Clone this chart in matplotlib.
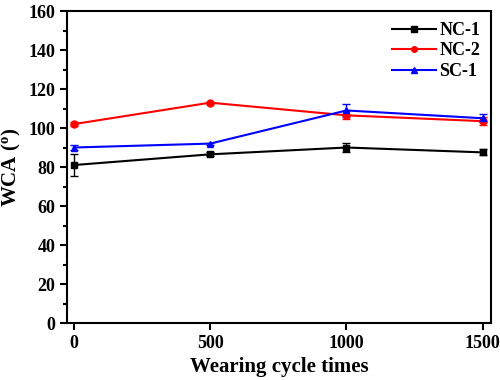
import numpy as np
import matplotlib
matplotlib.use('Agg')
import matplotlib.pyplot as plt

# data
cycles = [0, 500, 1000, 1500]
nc1 = [81, 86.5, 90, 87.5]
nc1_err = [5.5, 1, 2.5, 1.5]
nc2 = [102, 113, 106.5, 103.5]
nc2_err = [1, 0.5, 2, 2]
sc1 = [90, 92, 109, 105]
sc1_err = [1.5, 0.5, 3.5, 2]

plt.rcParams['font.family'] = ['Liberation Serif', 'DejaVu Serif']
plt.rcParams['font.weight'] = 'bold'
plt.rcParams['mathtext.fontset'] = 'custom'
plt.rcParams['mathtext.rm'] = 'Liberation Serif:bold'
plt.rcParams['mathtext.it'] = 'Liberation Serif:bold'

fig = plt.figure(figsize=(5, 3.8), dpi=100)
ax = fig.add_axes([0.134, 0.15, 0.848, 0.821])

e1 = ax.errorbar(cycles, nc1, yerr=nc1_err, color='black', marker='s', ms=5,
                 lw=1.5, capsize=3, elinewidth=1, label='NC-1')
e2 = ax.errorbar(cycles, nc2, yerr=nc2_err, color='red', marker='o', ms=5,
                 lw=1.5, capsize=3, elinewidth=1, label='NC-2')
e3 = ax.errorbar(cycles, sc1, yerr=sc1_err, color='blue', marker='^', ms=5,
                 lw=1.5, capsize=3, elinewidth=1, label='SC-1')

ax.set_xlim(-25, 1530)
ax.set_ylim(0, 160)
ax.set_xticks([0, 500, 1000, 1500])
ax.set_yticks(np.arange(0, 161, 20))
ax.set_yticks(np.arange(10, 160, 20), minor=True)
ax.tick_params(axis='both', which='major', direction='out', length=5, width=1.5, labelsize=13)
ax.tick_params(axis='y', which='minor', direction='out', length=3, width=1.5)
for s in ax.spines.values():
    s.set_linewidth(1.5)

ax.set_xlabel('Wearing cycle times', fontsize=15, fontweight='bold')
ax.set_ylabel('WCA ($^o$)', fontsize=15, fontweight='bold')

# legend with plain line+marker handles (no error bar glyphs)
ax.legend(handles=[e1[0], e2[0], e3[0]], labels=['NC-1', 'NC-2', 'SC-1'],
          loc='upper right', frameon=False, fontsize=13, handlelength=2.4,
          handletextpad=0.2, labelspacing=0.2, borderaxespad=0.2, markerscale=0.8)

fig.savefig('out.png', dpi=100)
